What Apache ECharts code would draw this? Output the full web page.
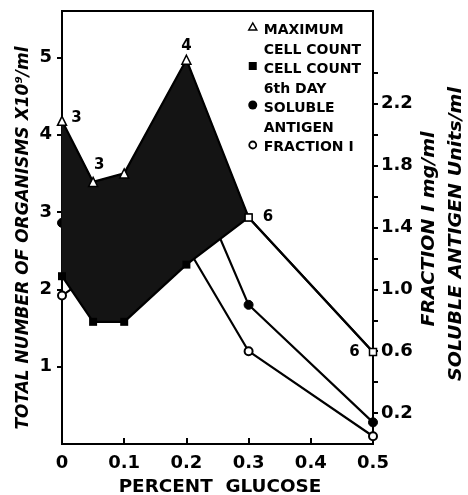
<!DOCTYPE html>
<html>
<head>
<meta charset="utf-8">
<script src="https://cdn.jsdelivr.net/npm/echarts@6/dist/echarts.min.js"></script>
<style>html,body{margin:0;padding:0;background:#fff;}#c{width:468px;height:495px;}</style>
</head>
<body>
<div id="c"></div>
<script>
const glucose = [0, 0.05, 0.1, 0.2, 0.3, 0.5];
const maxCellCount = [4.18, 3.39, 3.5, 4.97, 2.93, 1.19];
const maxCellDay = ['3', '3', '', '4', '6', '6'];
const cellCount6thDay = [2.17, 1.58, 1.58, 2.32, 2.93, 1.19];
const solubleAntigen = [1.43, 1.5, 1.6, 1.84, 0.9, 0.14];
const fractionI = [0.96, 1.1, 1.15, 1.28, 0.6, 0.05];
const xTicks = [0, 0.1, 0.2, 0.3, 0.4, 0.5];
const leftTicks = [1, 2, 3, 4, 5];
const rightTicks = [0.2, 0.4, 0.6, 0.8, 1.0, 1.2, 1.4, 1.6, 1.8, 2.0, 2.2, 2.4];
const rightLabels = [0.2, 0.6, 1.0, 1.4, 1.8, 2.2];
const xTitle = 'PERCENT  GLUCOSE';
const leftTitle = 'TOTAL NUMBER OF ORGANISMS X10⁹/ml';
const rightTitle1 = 'FRACTION I mg/ml';
const rightTitle2 = 'SOLUBLE ANTIGEN Units/ml';
const legendLines = ['MAXIMUM\nCELL COUNT', 'CELL COUNT\n6th DAY', 'SOLUBLE\nANTIGEN', 'FRACTION I'];

const labelPos = [
  {position: 'right', distance: 4, offset: [0, -3]},
  {position: 'top', distance: 4, offset: [6, 0]},
  {position: 'top'},
  {position: 'top', distance: 1},
  {position: 'right', distance: 10},
  {position: 'left', distance: 9}
];

const FONT = 'DejaVu Sans';
const pair = (xs, ys) => xs.map((x, i) => [x, ys[i]]);

const chart = echarts.init(document.getElementById('c'), null, {renderer: 'canvas'});
const labelStyle = {fontFamily: FONT, fontWeight: 'bold', fontSize: 15, color: '#000'};
const tickFont = {fontFamily: FONT, fontWeight: 'bold', fontSize: 18, color: '#000'};
const legendFont = 'bold 14px "DejaVu Sans"';

chart.setOption({
  animation: false,
  backgroundColor: '#fff',
  grid: {left: 62, right: 95, top: 11, bottom: 51, outerBoundsMode: 'none', containLabel: false,
    show: true, borderColor: '#000', borderWidth: 2, backgroundColor: 'transparent'},
  xAxis: {
    type: 'value', min: 0, max: 0.5, interval: 0.1,
    axisLine: {lineStyle: {color: '#000', width: 2}},
    axisTick: {inside: true, length: 6, customValues: xTicks, lineStyle: {color: '#000', width: 2}},
    axisLabel: Object.assign({margin: 10, customValues: xTicks,
      formatter: v => (v === 0 ? '0' : v.toFixed(1))}, tickFont),
    splitLine: {show: false}
  },
  yAxis: [{
    type: 'value', min: 0, max: 5.6, position: 'left',
    axisLine: {show: true, lineStyle: {color: '#000', width: 2}},
    axisTick: {show: true, length: 5, customValues: leftTicks, lineStyle: {color: '#000', width: 2}},
    axisLabel: Object.assign({margin: 10, customValues: leftTicks}, tickFont),
    splitLine: {show: false}
  }, {
    type: 'value', min: 0, max: 2.8, position: 'right',
    axisLine: {show: true, lineStyle: {color: '#000', width: 2}},
    axisTick: {show: true, length: 5, customValues: rightTicks, lineStyle: {color: '#000', width: 2}},
    axisLabel: Object.assign({margin: 8, customValues: rightLabels, formatter: v => v.toFixed(1)}, tickFont),
    splitLine: {show: false}
  }],
  series: [
    {
      name: 'FRACTION I', type: 'line', yAxisIndex: 1, z: 1,
      data: pair(glucose, fractionI),
      symbol: 'circle', symbolSize: 8,
      lineStyle: {color: '#000', width: 2.2},
      itemStyle: {color: '#fff', borderColor: '#000', borderWidth: 2}
    },
    {
      name: 'SOLUBLE ANTIGEN', type: 'line', yAxisIndex: 1, z: 1,
      data: pair(glucose, solubleAntigen),
      symbol: 'circle', symbolSize: 9,
      lineStyle: {color: '#000', width: 2.2},
      itemStyle: {color: '#000', borderColor: '#000', borderWidth: 1}
    },
    {
      name: 'band', type: 'custom', yAxisIndex: 0, z: 2, silent: true,
      data: glucose.map((x, i) => [x, cellCount6thDay[i], maxCellCount[i]]),
      encode: {x: 0, y: [1, 2]},
      renderItem: (params, api) => {
        if (params.dataIndex !== 0) return null;
        const upper = glucose.map((x, i) => api.coord([x, maxCellCount[i]]));
        const lower = glucose.map((x, i) => api.coord([x, cellCount6thDay[i]])).reverse();
        return {type: 'polygon', shape: {points: upper.concat(lower)}, style: {fill: '#141414', stroke: '#141414', lineWidth: 1}};
      }
    },
    {
      name: 'CELL COUNT 6th DAY', type: 'line', yAxisIndex: 0, z: 3,
      data: pair(glucose, cellCount6thDay),
      symbol: 'rect', symbolSize: 8,
      lineStyle: {color: '#000', width: 2.2},
      itemStyle: {color: '#000'}
    },
    {
      name: 'MAXIMUM CELL COUNT', type: 'line', yAxisIndex: 0, z: 4,
      data: glucose.map((x, i) => ({
        value: [x, maxCellCount[i]],
        symbol: maxCellDay[i] === '6' ? 'rect' : 'triangle',
        symbolSize: maxCellDay[i] === '6' ? 7 : 9,
        label: Object.assign({show: maxCellDay[i] !== ''}, labelPos[i])
      })),
      lineStyle: {color: '#000', width: 2.2},
      itemStyle: {color: '#fff', borderColor: '#000', borderWidth: 1.5},
      label: Object.assign({formatter: p => maxCellDay[p.dataIndex]}, labelStyle)
    }
  ],
  graphic: [
    {type: 'text', x: 220, y: 488, scaleX: 1.08,
      style: {text: xTitle, font: 'bold 17px "DejaVu Sans"', fill: '#000', textAlign: 'center', textVerticalAlign: 'middle'}},
    {type: 'text', x: 24, y: 238, rotation: Math.PI / 2,
      style: {text: leftTitle, font: 'italic bold 17px "DejaVu Sans"', fill: '#000', textAlign: 'center', textVerticalAlign: 'middle'}},
    {type: 'text', x: 430, y: 229, rotation: Math.PI / 2, scaleX: 1.12,
      style: {text: rightTitle1, font: 'italic bold 17px "DejaVu Sans"', fill: '#000', textAlign: 'center', textVerticalAlign: 'middle'}},
    {type: 'text', x: 457, y: 234, rotation: Math.PI / 2, scaleX: 1.12,
      style: {text: rightTitle2, font: 'italic bold 17px "DejaVu Sans"', fill: '#000', textAlign: 'center', textVerticalAlign: 'middle'}},
    {type: 'group', left: 248, top: 21, children: [
      {type: 'polygon', shape: {points: [[5, 2], [1, 9], [9, 9]]}, style: {fill: '#fff', stroke: '#000', lineWidth: 1.5}},
      {type: 'text', x: 16, y: 0, style: {text: legendLines[0], font: legendFont, lineHeight: 19.5, fill: '#000'}},
      {type: 'rect', shape: {x: 1, y: 41, width: 8, height: 8}, style: {fill: '#000'}},
      {type: 'text', x: 16, y: 39, style: {text: legendLines[1], font: legendFont, lineHeight: 19.5, fill: '#000'}},
      {type: 'circle', shape: {cx: 5, cy: 84, r: 4.5}, style: {fill: '#000'}},
      {type: 'text', x: 16, y: 78, style: {text: legendLines[2], font: legendFont, lineHeight: 19.5, fill: '#000'}},
      {type: 'circle', shape: {cx: 5, cy: 124, r: 3.5}, style: {fill: '#fff', stroke: '#000', lineWidth: 1.8}},
      {type: 'text', x: 16, y: 117, style: {text: legendLines[3], font: legendFont, lineHeight: 19.5, fill: '#000'}}
    ]}
  ]
});
</script>
</body>
</html>
